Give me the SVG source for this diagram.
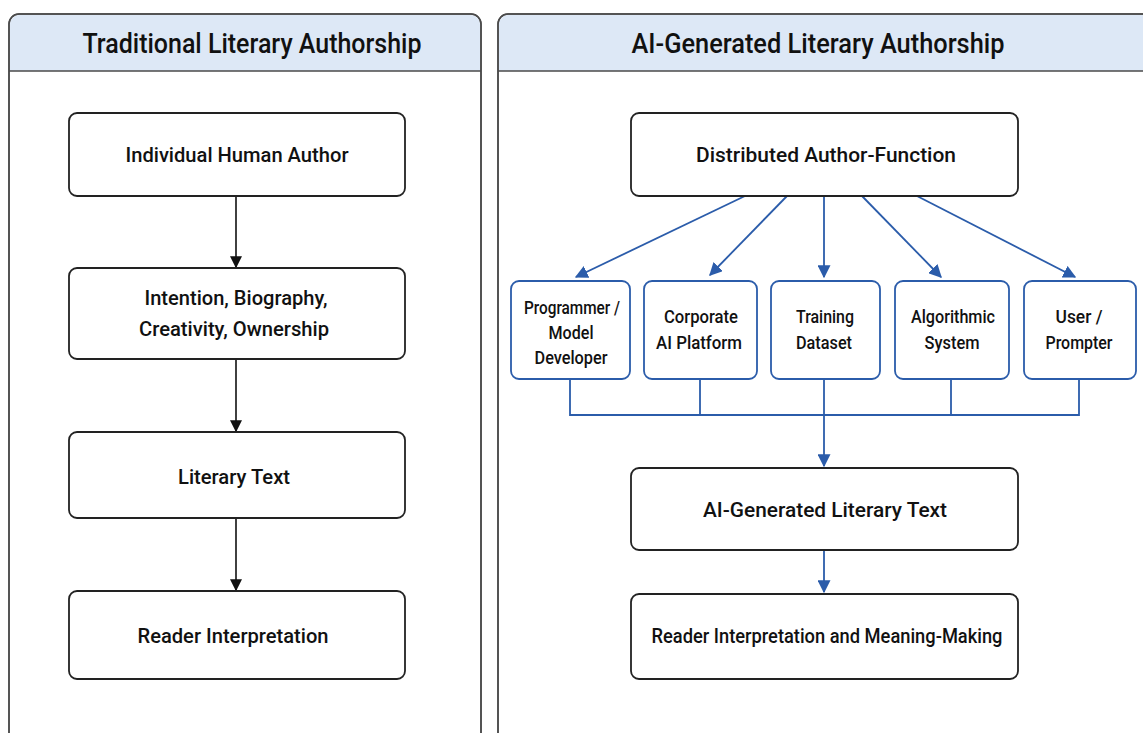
<svg xmlns="http://www.w3.org/2000/svg" width="1143" height="733" viewBox="0 0 1143 733">
<defs>
<style>
.panel{fill:#fff;stroke:#4a4a4a;stroke-width:1.5}
.hdr{fill:#dde8f6;stroke:none}
.hline{stroke:#4a4a4a;stroke-width:1.5}
.box{fill:#fff;stroke:#222;stroke-width:1.8}
.sbox{fill:#fff;stroke:#2b5caa;stroke-width:1.8}
.t{font-family:Roboto,"Liberation Sans",sans-serif;font-weight:500;fill:#111;text-anchor:middle}
.title{font-size:27px}
.n{font-size:21px}
.s{font-size:19px}
.k{stroke:#111;stroke-width:1.6;fill:none}
.b{stroke:#2b5caa;stroke-width:1.8;fill:none}
</style>
<marker id="ak" viewBox="0 0 10 10" refX="9" refY="5" markerWidth="12" markerHeight="12" markerUnits="userSpaceOnUse" orient="auto"><path d="M0,0 L10,5 L0,10 z" fill="#111"/></marker>
<marker id="ab" viewBox="0 0 10 10" refX="9" refY="5" markerWidth="13" markerHeight="13" markerUnits="userSpaceOnUse" orient="auto"><path d="M0,0 L10,5 L0,10 z" fill="#2b5caa"/></marker>
</defs>
<rect width="1143" height="733" fill="#fff"/>
<g id="panel-left">
<rect class="panel" x="9" y="14" width="472" height="740" rx="10"/>
<path class="hdr" d="M10,71 V24 a9,9 0 0 1 9,-9 H471 a9,9 0 0 1 9,9 V71 z"/>
<line class="hline" x1="9" y1="71" x2="481" y2="71"/>
<rect class="panel" x="9" y="14" width="472" height="740" rx="10" style="fill:none"/>
<text class="t title" x="252" y="53" textLength="339" lengthAdjust="spacingAndGlyphs">Traditional Literary Authorship</text>
</g>
<g id="panel-right">
<rect class="panel" x="498" y="14" width="680" height="740" rx="10"/>
<path class="hdr" d="M499,71 V24 a9,9 0 0 1 9,-9 H1178 V71 z"/>
<line class="hline" x1="498" y1="71" x2="1143" y2="71"/>
<rect class="panel" x="498" y="14" width="680" height="740" rx="10" style="fill:none"/>
<text class="t title" x="818" y="53" textLength="373" lengthAdjust="spacingAndGlyphs">AI-Generated Literary Authorship</text>
</g>
<g id="connectors">
<line class="k" x1="236" y1="196" x2="236" y2="267" marker-end="url(#ak)"/>
<line class="k" x1="236" y1="359" x2="236" y2="431" marker-end="url(#ak)"/>
<line class="k" x1="236" y1="518" x2="236" y2="590" marker-end="url(#ak)"/>
<line class="b" x1="745" y1="196" x2="576" y2="277" marker-end="url(#ab)"/>
<line class="b" x1="787" y1="196" x2="710" y2="275" marker-end="url(#ab)"/>
<line class="b" x1="824" y1="196" x2="824" y2="277" marker-end="url(#ab)"/>
<line class="b" x1="862" y1="196" x2="941" y2="277" marker-end="url(#ab)"/>
<line class="b" x1="917" y1="196" x2="1075" y2="277" marker-end="url(#ab)"/>
<polyline class="b" points="570,379 570,415 1079,415 1079,379"/>
<line class="b" x1="700" y1="379" x2="700" y2="415"/>
<line class="b" x1="951" y1="379" x2="951" y2="415"/>
<line class="b" x1="824" y1="379" x2="824" y2="466" marker-end="url(#ab)"/>
<line class="b" x1="824" y1="550" x2="824" y2="592" marker-end="url(#ab)"/>
</g>
<g id="node-author"><rect class="box" x="69" y="113" width="336" height="83" rx="8"/><text class="t n" x="237" y="162" textLength="223" lengthAdjust="spacingAndGlyphs">Individual Human Author</text></g>
<g id="node-intention"><rect class="box" x="69" y="268" width="336" height="91" rx="8"/><text class="t n" x="236" y="305" textLength="183" lengthAdjust="spacingAndGlyphs">Intention, Biography,</text><text class="t n" x="234" y="336" textLength="190" lengthAdjust="spacingAndGlyphs">Creativity, Ownership</text></g>
<g id="node-text"><rect class="box" x="69" y="432" width="336" height="86" rx="8"/><text class="t n" x="234" y="484" textLength="112" lengthAdjust="spacingAndGlyphs">Literary Text</text></g>
<g id="node-reader"><rect class="box" x="69" y="591" width="336" height="88" rx="8"/><text class="t n" x="233" y="643" textLength="191" lengthAdjust="spacingAndGlyphs">Reader Interpretation</text></g>
<g id="node-distributed"><rect class="box" x="631" y="113" width="387" height="83" rx="8"/><text class="t n" x="826" y="162" textLength="260" lengthAdjust="spacingAndGlyphs">Distributed Author-Function</text></g>
<g id="node-programmer"><rect class="sbox" x="511" y="281" width="119" height="98" rx="8"/><text class="t s" x="572" y="314" textLength="96" lengthAdjust="spacingAndGlyphs">Programmer /</text><text class="t s" x="571" y="339" textLength="45" lengthAdjust="spacingAndGlyphs">Model</text><text class="t s" x="571" y="364" textLength="73" lengthAdjust="spacingAndGlyphs">Developer</text></g>
<g id="node-corporate"><rect class="sbox" x="644" y="281" width="113" height="98" rx="8"/><text class="t s" x="701" y="323" textLength="74" lengthAdjust="spacingAndGlyphs">Corporate</text><text class="t s" x="699" y="349" textLength="86" lengthAdjust="spacingAndGlyphs">AI Platform</text></g>
<g id="node-training"><rect class="sbox" x="771" y="281" width="109" height="98" rx="8"/><text class="t s" x="825" y="323" textLength="58" lengthAdjust="spacingAndGlyphs">Training</text><text class="t s" x="824" y="349" textLength="56" lengthAdjust="spacingAndGlyphs">Dataset</text></g>
<g id="node-algorithmic"><rect class="sbox" x="895" y="281" width="114" height="98" rx="8"/><text class="t s" x="953" y="323" textLength="84" lengthAdjust="spacingAndGlyphs">Algorithmic</text><text class="t s" x="952" y="349" textLength="55" lengthAdjust="spacingAndGlyphs">System</text></g>
<g id="node-user"><rect class="sbox" x="1024" y="281" width="112" height="98" rx="8"/><text class="t s" x="1079" y="323" textLength="47" lengthAdjust="spacingAndGlyphs">User /</text><text class="t s" x="1079" y="349" textLength="67" lengthAdjust="spacingAndGlyphs">Prompter</text></g>
<g id="node-aitext"><rect class="box" x="631" y="468" width="387" height="82" rx="8"/><text class="t n" x="825" y="517" textLength="244" lengthAdjust="spacingAndGlyphs">AI-Generated Literary Text</text></g>
<g id="node-meaning"><rect class="box" x="631" y="594" width="387" height="85" rx="8"/><text class="t n" x="827" y="643" textLength="351" lengthAdjust="spacingAndGlyphs">Reader Interpretation and Meaning-Making</text></g>
</svg>
